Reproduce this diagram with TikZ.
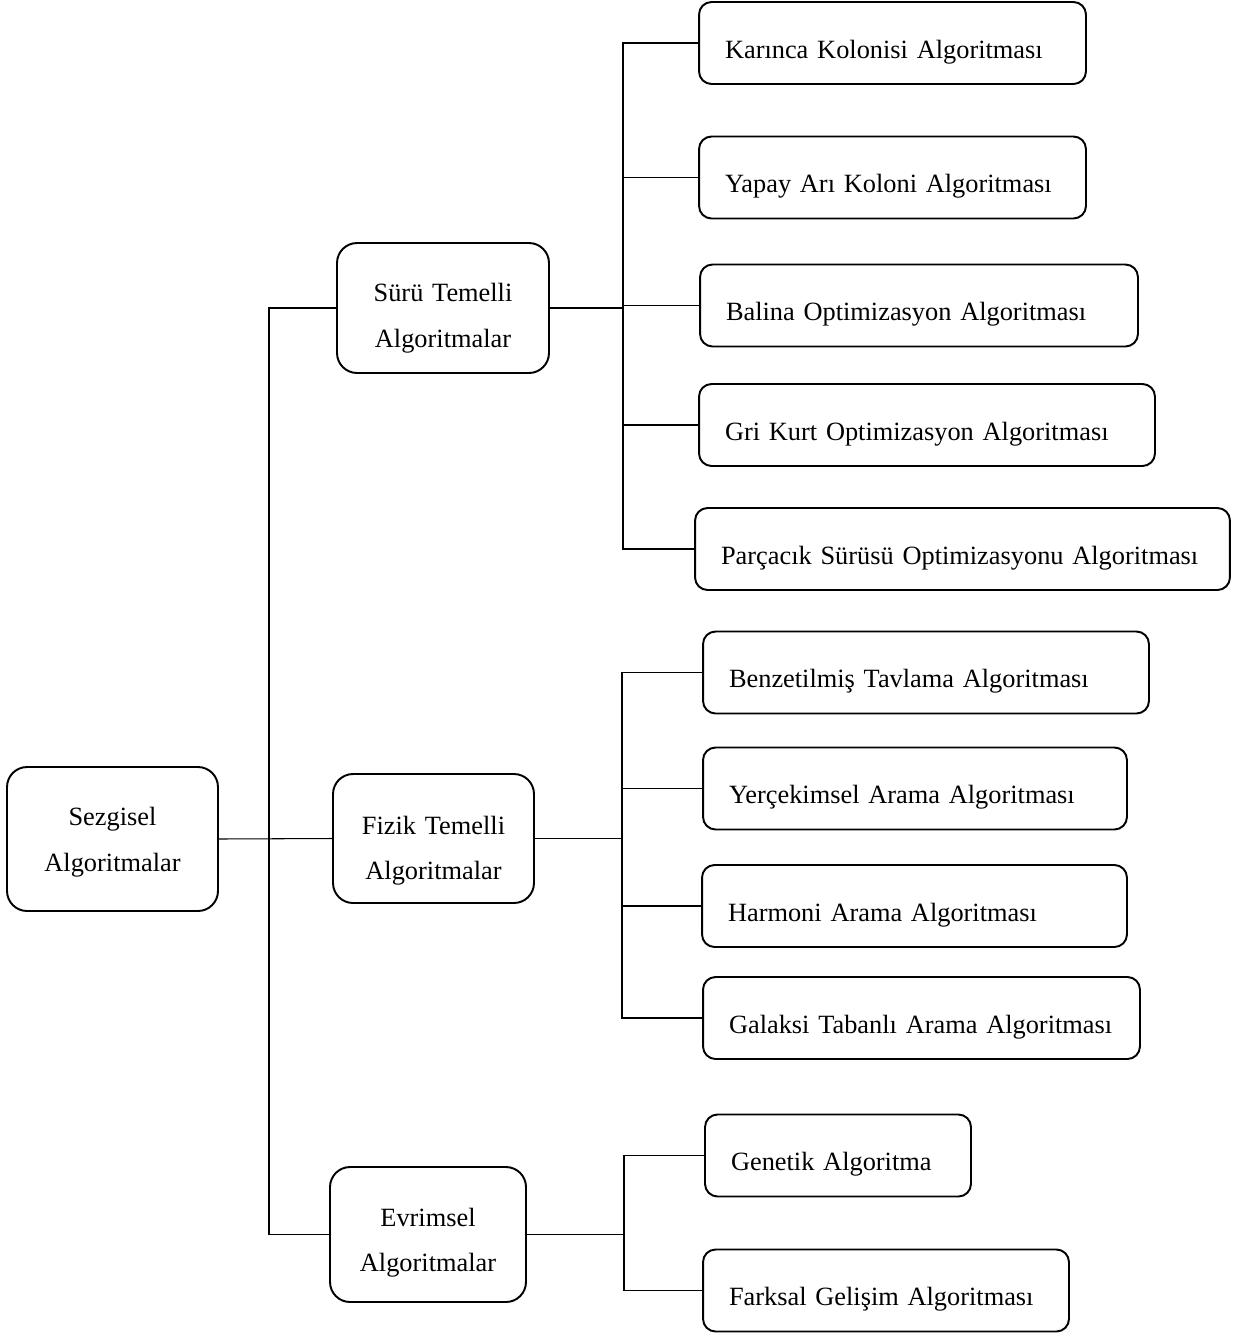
\documentclass[tikz,border=0pt]{standalone}
\usepackage{fontspec}
\setmainfont{Liberation Serif}
\usepackage{tikz}
\usetikzlibrary{positioning}

\tikzset{
  box/.style={draw, line width=1.1pt, font=\fontsize{15}{26}\selectfont},
  group/.style={box, rounded corners=0.4cm, align=center, inner xsep=0pt, text width=#1, text depth=1.04cm},
  leaf/.style={box, rounded corners=0.25cm, align=left, inner xsep=0.52cm, text width=#1,
    text height=0.73cm, text depth=0.12cm, minimum height=1.64cm},
  wire/.style={line width=0.6pt}
}

\begin{document}
\begin{tikzpicture}[x=0.02cm, y=-0.02cm]
  \useasboundingbox (0,0) rectangle (1240,1336);
  % main groups
  \node[group=4.22cm, text height=0.51cm, minimum height=2.88cm] (root)  at (112.5,839)  {Sezgisel\\Algoritmalar};
  \node[group=4.24cm, text height=0.79cm, minimum height=2.60cm] (suru)  at (443,308)    {Sürü Temelli\\Algoritmalar};
  \node[group=4.02cm, text height=0.87cm, minimum height=2.58cm] (fizik) at (433.5,838.5) {Fizik Temelli\\Algoritmalar};
  \node[group=3.92cm, text height=0.71cm, minimum height=2.70cm] (evrim) at (428,1234.5) {Evrimsel\\Algoritmalar};
  % leaves
  \node[leaf=6.70cm] (karinca)  at (892.5,43)    {Karınca Kolonisi Algoritması};
  \node[leaf=6.70cm] (yapay)    at (892.5,177.5) {Yapay Arı Koloni Algoritması};
  \node[leaf=7.72cm] (balina)   at (919,305.5)   {Balina Optimizasyon Algoritması};
  \node[leaf=8.08cm] (grikurt)  at (927,425)     {Gri Kurt Optimizasyon Algoritması};
  \node[leaf=9.66cm] (parcacik) at (962.5,549)   {Parçacık Sürüsü Optimizasyonu Algoritması};
  \node[leaf=7.88cm] (benzet)   at (926,672.5)   {Benzetilmiş Tavlama Algoritması};
  \node[leaf=7.44cm] (yercek)   at (915,788.5)   {Yerçekimsel Arama Algoritması};
  \node[leaf=7.46cm] (harmoni)  at (914.5,906)   {Harmoni Arama Algoritması};
  \node[leaf=7.70cm] (galaksi)  at (921.5,1018)  {Galaksi Tabanlı Arama Algoritması};
  \node[leaf=4.28cm] (genetik)  at (838,1155.5)  {Genetik Algoritma};
  \node[leaf=6.28cm] (farksal)  at (886,1290.5)  {Farksal Gelişim Algoritması};
  % bus points
  \coordinate (rbus) at (269,839);
  \coordinate (sbus) at (623,308);
  \coordinate (fbus) at (622,838.5);
  \coordinate (ebus) at (624,1234.5);
  % connectors
  \draw[wire] (root.east) -- (fizik.west);
  \foreach \n in {suru,evrim} \draw[wire] (rbus) |- (\n.west);
  \draw[wire] (suru.east) -- (sbus);
  \foreach \n in {karinca,yapay,balina,grikurt,parcacik} \draw[wire] (sbus) |- (\n.west);
  \draw[wire] (fizik.east) -- (fbus);
  \foreach \n in {benzet,yercek,harmoni,galaksi} \draw[wire] (fbus) |- (\n.west);
  \draw[wire] (evrim.east) -- (ebus);
  \foreach \n in {genetik,farksal} \draw[wire] (ebus) |- (\n.west);
\end{tikzpicture}
\end{document}
